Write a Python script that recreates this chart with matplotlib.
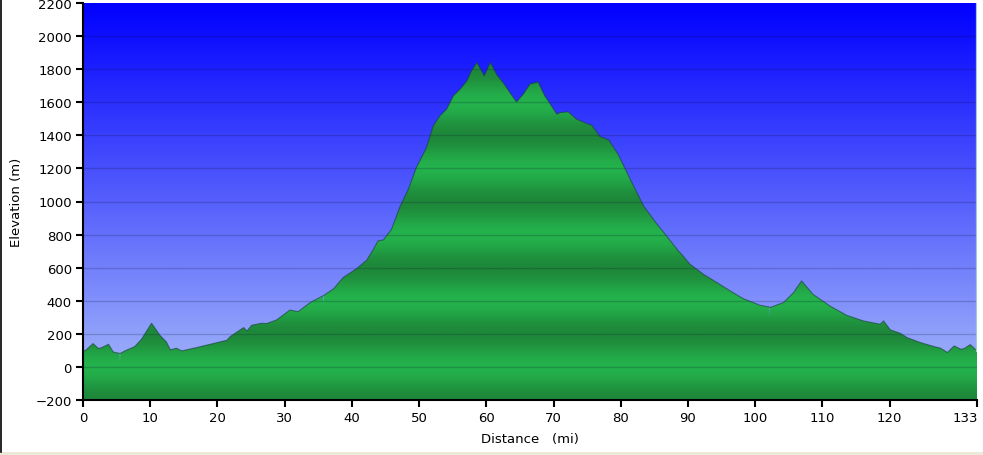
import numpy as np
import matplotlib
matplotlib.use("Agg")
import matplotlib.pyplot as plt
from matplotlib.colors import LinearSegmentedColormap
from matplotlib.patches import Polygon
from matplotlib.transforms import blended_transform_factory, ScaledTranslation

dist = [0.0, 0.3, 1.5, 2.3, 2.8, 3.8, 4.5, 5.2, 5.45, 5.5, 5.55, 6.25, 7.7, 8.7, 10.2,
        11.45, 12.4, 13.0, 13.9, 14.7, 16.9, 21.4, 21.9, 23.9, 24.4, 25.1, 26.6, 27.3,
        28.8, 29.6, 30.8, 32.0, 33.8, 35.7, 35.8, 35.85, 37.3, 38.7, 40.7, 42.2, 43.2,
        43.9, 44.7, 45.9, 47.2, 48.4, 49.6, 51.1, 52.1, 53.1, 54.1, 55.1, 56.1, 57.1,
        57.8, 58.6, 59.7, 60.6, 61.6, 62.5, 63.5, 64.5, 65.5, 66.5, 67.7, 68.7, 70.5,
        71.0, 72.2, 73.4, 75.2, 75.7, 76.9, 78.2, 79.6, 81.4, 83.4, 85.2, 86.8, 88.7,
        88.8, 88.85, 90.3, 92.3, 94.3, 96.3, 98.2, 100.7, 102.1, 102.15, 102.2, 104.2,
        105.7, 106.9, 108.6, 111.1, 113.6, 116.1, 118.6, 119.1, 120.1, 121.6, 122.6,
        124.6, 126.6, 127.6, 128.6, 129.6, 130.6, 131.1, 132.0, 133.0]
elev = [100, 97, 141, 111, 117, 137, 90, 84, 82, 28, 82, 97, 123, 167, 264,
        191, 151, 103, 113, 97, 117, 161, 183, 238, 217, 252, 264, 262,
        284, 308, 344, 334, 389, 430, 380, 433, 473, 540, 594, 645, 711,
        762, 768, 832, 973, 1074, 1205, 1326, 1457, 1518, 1558, 1639, 1679, 1729,
        1790, 1840, 1760, 1840, 1764, 1719, 1659, 1602, 1649, 1710, 1723, 1639, 1528,
        1538, 1542, 1498, 1467, 1461, 1393, 1373, 1286, 1135, 973, 873, 792, 695,
        691, 691, 621, 560, 510, 459, 413, 373, 362, 300, 359, 389,
        449, 520, 439, 369, 312, 278, 258, 278, 224, 203, 177,
        147, 123, 113, 87, 127, 107, 111, 135, 97]
x_ticks = [0, 10, 20, 30, 40, 50, 60, 70, 80, 90, 100, 110, 120, 133]
x_labels = ["0", "10", "20", "30", "40", "50", "60", "70", "80", "90", "100", "110", "120", "133"]
y_ticks = list(range(-200, 2201, 200))

W, H = 983, 456
fig = plt.figure(figsize=(W / 100, H / 100), dpi=100)
ax = fig.add_axes([83 / W, 55 / H, 894 / W, 397 / H])
ax.set_xlim(0, 133)
ax.set_ylim(-200, 2200)

# sky gradient
bg_cmap = LinearSegmentedColormap.from_list(
    "bg", [(172 / 255, 192 / 255, 250 / 255), (0, 0, 1)])
grad = np.linspace(0, 1, 512).reshape(-1, 1)
ax.imshow(grad, extent=[0, 133, -200, 2200], origin="lower", aspect="auto",
          cmap=bg_cmap, zorder=0, interpolation="bilinear")

# banded green terrain
g_cmap = LinearSegmentedColormap.from_list(
    "g", [(30 / 255, 136 / 255, 58 / 255), (36 / 255, 178 / 255, 76 / 255)])
ys = np.linspace(-200, 2200, 2400)
band = 0.5 + 0.5 * np.cos(2 * np.pi * ys / 400.0)
im = ax.imshow(band.reshape(-1, 1), extent=[0, 133, -200, 2200], origin="lower",
               aspect="auto", cmap=g_cmap, zorder=1, interpolation="bilinear")
verts = [(dist[0], -200)] + list(zip(dist, elev)) + [(dist[-1], -200)]
clip = Polygon(verts, closed=True, facecolor="none", edgecolor="none",
               transform=ax.transData)
ax.add_patch(clip)
im.set_clip_path(clip)

# grid lines
for yv in y_ticks[1:-1]:
    ax.axhline(yv, color=(0.05, 0.05, 0.2), alpha=0.2, lw=1.0, zorder=2)

# outline (skip the one-sample dropouts so they stay pale like the original)
d = np.asarray(dist, float)
e = np.asarray(elev, float)
keep = np.ones(len(e), bool)
for i in range(1, len(e) - 1):
    if e[i] < min(e[i - 1], e[i + 1]) - 25 and (d[i + 1] - d[i - 1]) < 0.3:
        keep[i] = False
ax.plot(d[keep], e[keep], color="#1a3f3c", lw=0.8, alpha=0.6, zorder=3)
ax.plot([133, 133], [elev[-1], 2200], color="#9ccfcf", lw=1.6, zorder=3)

ax.set_xticks(x_ticks)
ax.set_xticklabels(x_labels[:-1] + [""])
ax.set_yticks(y_ticks)
ax.tick_params(axis="both", direction="out", length=5, width=1.5,
               labelsize=9.5, colors="black", pad=3)
trans = blended_transform_factory(ax.transData, ax.transAxes) + \
    ScaledTranslation(0.01, -0.115, fig.dpi_scale_trans)
ax.text(x_ticks[-1], 0, x_labels[-1], transform=trans, ha="right", va="top",
        fontsize=9.5, color="black")

for s in ["top", "right"]:
    ax.spines[s].set_visible(False)
for s in ["left", "bottom"]:
    ax.spines[s].set_linewidth(1.5)
    ax.spines[s].set_color("black")
    ax.spines[s].set_zorder(5)

ax.set_xlabel("Distance   (mi)", fontsize=9.5, labelpad=6)
ax.set_ylabel("Elevation (m)", fontsize=9.5, labelpad=9)

# figure frame bits
fig.add_artist(plt.Line2D([0.5 / W, 0.5 / W], [3 / H, 1], color="black", lw=1.2,
                          transform=fig.transFigure))
fig.add_artist(plt.Rectangle((0, 0), 1, 3 / H, transform=fig.transFigure,
                             facecolor="#ece9d8", edgecolor="none"))

fig.savefig("out.png", dpi=100)
